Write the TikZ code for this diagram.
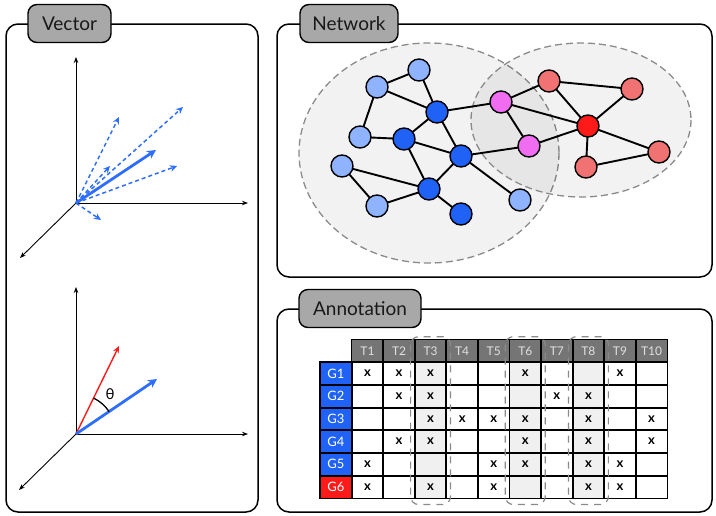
\documentclass[tikz,border=0pt]{standalone}
\usepackage{fontspec}
\setmainfont{Lato}
\usetikzlibrary{arrows.meta,calc}
\pgfdeclarelayer{background}
\pgfdeclarelayer{edgelayer}
\pgfsetlayers{background,edgelayer,main}
\definecolor{vblue}{HTML}{2E6EFF}
\definecolor{lblue}{HTML}{8FB3FF}
\definecolor{dblue}{HTML}{1F62F5}
\definecolor{pink}{HTML}{F06CF0}
\definecolor{lred}{HTML}{F07272}
\definecolor{vred}{HTML}{FF1A1A}
\definecolor{tabgray}{HTML}{A8A8A8}
\definecolor{hdrgray}{HTML}{757575}
\definecolor{hlgray}{HTML}{F0F0F0}
\definecolor{ggray}{HTML}{8A8A8A}
\begin{document}
\begin{tikzpicture}[x=1pt,y=-1pt,
  panel/.style={draw=black,line width=1.5pt,rounded corners=12pt},
  tab/.style={draw=black,line width=1.4pt,fill=tabgray,rounded corners=9pt,
    minimum height=38pt,inner sep=0pt,font=\fontsize{19}{19}\selectfont,text=black!90},
  axis/.style={line width=0.9pt,-{Stealth[length=6pt,width=4.5pt]}},
  bigarrow/.style={vblue,line width=2.8pt,-{Stealth[length=9pt,width=9pt]}},
  dasharrow/.style={vblue,line width=1.5pt,dash pattern=on 4pt off 3pt,-{Stealth[length=7pt,width=6.5pt]}},
  vert/.style={circle,draw=black,line width=1.4pt,minimum size=22pt,inner sep=0pt},
  edge/.style={line width=1.9pt},
  blob/.style={fill=black,fill opacity=0.05,draw=ggray,line width=1.3pt,dash pattern=on 7pt off 4pt},
  cell/.style={minimum width=31.56pt,minimum height=22.67pt,inner sep=0pt},
  hcell/.style={cell,fill=hdrgray,text=white!88!black,font=\fontsize{12}{12}\selectfont},
  gcell/.style={minimum width=31.7pt,minimum height=22.67pt,inner sep=0pt,text=white,font=\fontsize{13}{13}\selectfont},
  cross/.style={inner sep=0pt,font=\fontsize{13}{13}\selectfont\bfseries},
  grid/.style={line width=1.5pt},
  hlbox/.style={draw=ggray,line width=1.2pt,rounded corners=8pt,dash pattern=on 7pt off 6pt}
]
\useasboundingbox (0,0) rectangle (716,515);

% ---------- panel frames ----------
\draw[panel] (6,24) rectangle (258,512);
\draw[panel] (277,24) rectangle (712,277);
\draw[panel] (277,309) rectangle (712,512);

% ---------- vector panel: spread of vectors ----------
\coordinate (o1) at (76,203);
\coordinate (y1) at (76,57);
\coordinate (x1) at (248,203);
\coordinate (z1) at (20,258);
\draw[axis] (o1) -- (y1);
\draw[axis] (o1) -- (x1);
\draw[axis] (o1) -- (z1);
\coordinate (d1) at (183,107);
\coordinate (d2) at (119,117);
\coordinate (d3) at (177,166);
\coordinate (d4) at (110,166);
\coordinate (d5) at (101,220);
\coordinate (s1) at (156,150);
\foreach \d in {d1,d2,d3,d4,d5} \draw[dasharrow] (o1) -- (\d);
\draw[bigarrow] (o1) -- (s1);

% ---------- vector panel: angle between two vectors ----------
\coordinate (o2) at (76,434);
\coordinate (y2) at (76,287);
\coordinate (x2) at (248,434);
\coordinate (z2) at (19,490);
\draw[axis] (o2) -- (y2);
\draw[axis] (o2) -- (x2);
\draw[axis] (o2) -- (z2);
\coordinate (r2) at (119,346);
\coordinate (b2) at (157,379);
\draw[vred,line width=1.4pt,-{Stealth[length=7pt,width=6pt]}] (o2) -- (r2);
\draw[bigarrow] (o2) -- (b2);
\draw[line width=1.3pt] (o2) ++(-34:40) arc[start angle=-34,end angle=-64,radius=40];
\node[font=\fontsize{15}{15}\selectfont] (theta) at (110,394) {θ};

% ---------- network panel ----------
\begin{pgfonlayer}{background}
\path[blob] (429,153) ellipse [x radius=130,y radius=110];
\path[blob] (581,120) ellipse [x radius=110,y radius=77];
\end{pgfonlayer}

\foreach \n/\c/\p in {A/lblue/{377,87},B/lblue/{419,70},C/lblue/{360,137},
                      D/lblue/{342,166},E/lblue/{377,206},F/lblue/{520,200},
                      G/dblue/{437,112},H/dblue/{404,139},I/dblue/{461,156},
                      J/dblue/{429,189},K/dblue/{461,214},
                      L/pink/{501,102},M/pink/{529,146},
                      N/lred/{549,81},O/lred/{632,89},P/lred/{659,152},
                      Q/lred/{586,167},R/vred/{588,126}}
  \node[vert,fill=\c] (n\n) at (\p) {};

\begin{pgfonlayer}{edgelayer}
\foreach \a/\b in {A/B,A/C,A/G,B/G,C/H,G/H,G/L,G/I,H/I,H/J,D/J,D/E,E/J,J/I,J/K,
                   I/M,I/F,L/N,L/M,L/R,M/R,N/R,N/O,O/R,R/P,R/Q,Q/P}
  \draw[edge] (n\a.center) -- (n\b.center);
\end{pgfonlayer}

% ---------- annotation panel: table ----------
\foreach \j in {1,...,10}
  \node[hcell] (t\j) at ({351.7+31.56*(\j-0.5)},351.2) {T\j};
\foreach \i in {1,...,6}{
  \ifnum\i=6 \def\gc{vred}\else\def\gc{dblue}\fi
  \node[gcell,fill=\gc] (g\i) at (335.85,{362.3+22.67*(\i-0.5)}) {G\i};
}
\foreach \i in {1,...,6}
  \foreach \j in {1,...,10}{
    \pgfmathtruncatemacro\hl{(\j==3)||(\j==6)||(\j==8)}
    \ifnum\hl=1 \def\cf{hlgray}\else\def\cf{white}\fi
    \node[cell,fill=\cf] (c\i-\j) at ({351.7+31.56*(\j-0.5)},{362.3+22.67*(\i-0.5)}) {};
  }
% grid lines
\foreach \j in {1,...,10}
  \draw[grid] (t\j.north west) rectangle (t\j.south east);
\foreach \i in {1,...,6}{
  \draw[grid] (g\i.north west) rectangle (g\i.south east);
  \foreach \j in {1,...,10}
    \draw[grid] (c\i-\j.north west) rectangle (c\i-\j.south east);
}
% marks
\foreach \i/\j in {1/1,1/2,1/3,1/6,1/9,
                   2/2,2/3,2/7,2/8,
                   3/3,3/4,3/5,3/6,3/8,3/10,
                   4/2,4/3,4/6,4/8,4/10,
                   5/1,5/5,5/6,5/8,5/9,
                   6/1,6/3,6/5,6/8,6/9}
  \node[cross] (x\i-\j) at (c\i-\j) {x};
% highlighted columns
\foreach \j in {3,6,8}
  \draw[hlbox] ($(t\j.north west)+(-4,-3)$) rectangle ($(c6-\j.south east)+(4,6)$);

% ---------- tabs ----------
\node[tab,minimum width=83pt] (tabV) at (69.5,23.5) {Vector};
\node[tab,minimum width=98pt] (tabN) at (349,23.5) {Network};
\node[tab,minimum width=122pt] (tabA) at (360,308.5) {Annotation};
\end{tikzpicture}
\end{document}
